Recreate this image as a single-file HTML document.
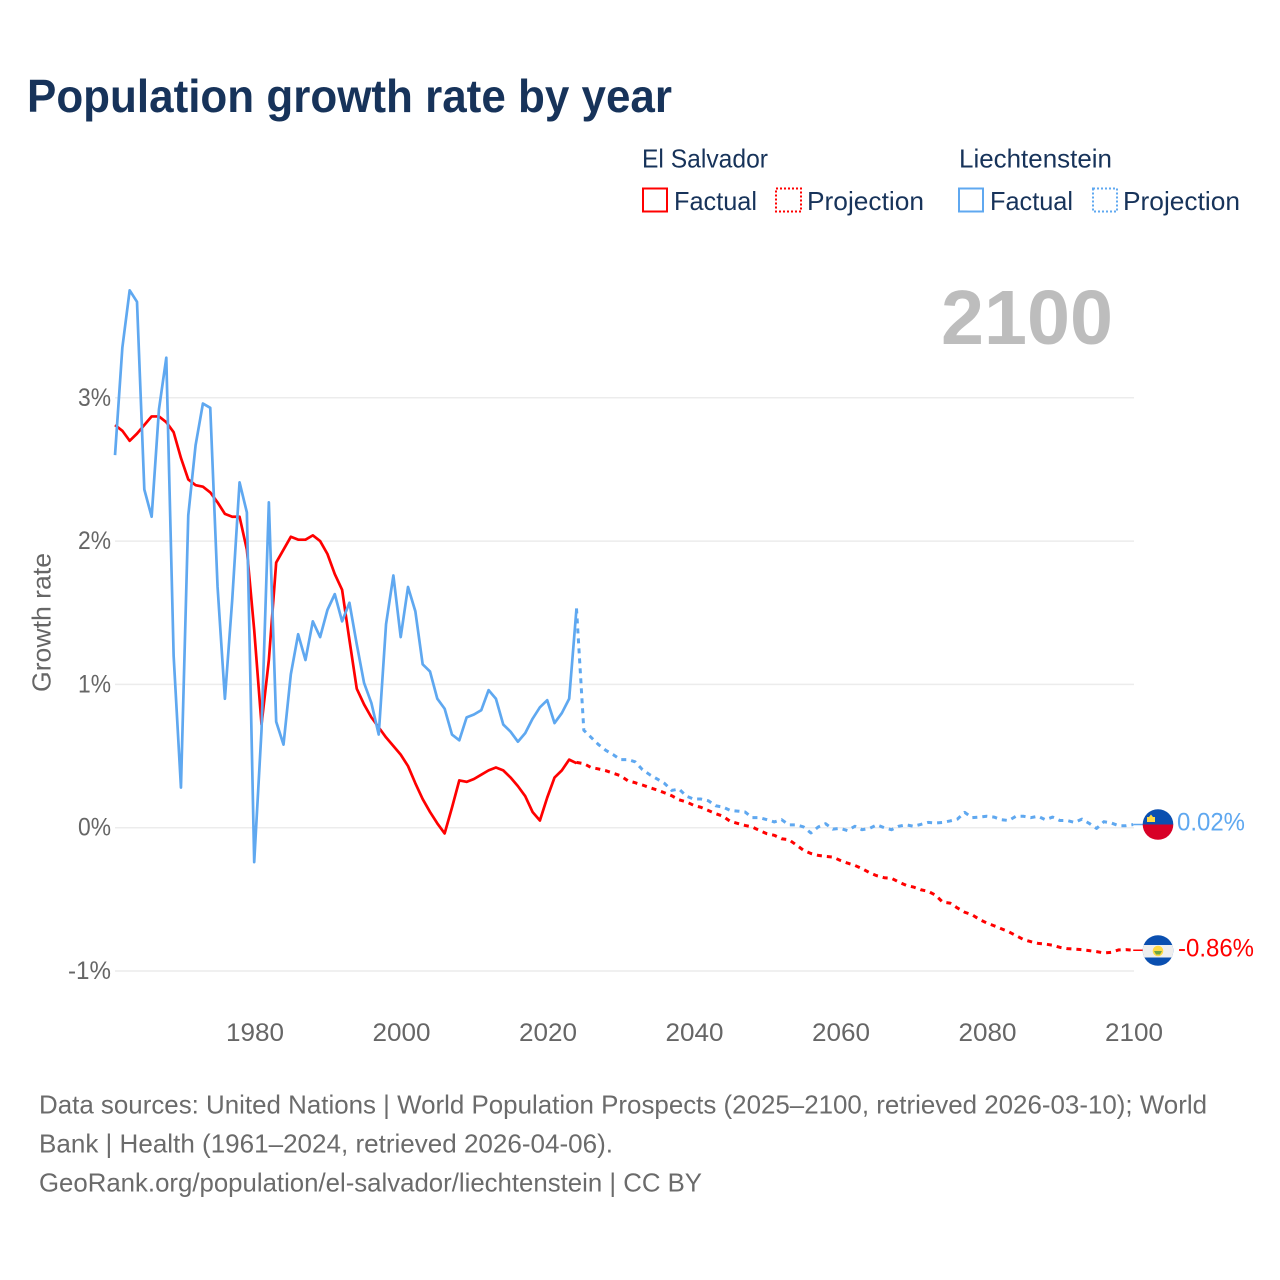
<!DOCTYPE html>
<html lang="en">
<head>
<meta charset="utf-8">
<title>Population growth rate by year</title>
<style>
html,body{margin:0;padding:0;background:#fff;}
svg{display:block;font-family:"Liberation Sans",sans-serif;}
</style>
</head>
<body>
<svg id="chart" xmlns="http://www.w3.org/2000/svg" width="1280" height="1280" viewBox="0 0 1280 1280">
  <rect width="1280" height="1280" fill="#fff"/>
  <text x="27" y="112" font-size="46" font-weight="700" fill="#17335a" textLength="645" lengthAdjust="spacingAndGlyphs">Population growth rate by year</text>

  <g font-size="26" fill="#17335a">
    <text x="642" y="167.500" textLength="126" lengthAdjust="spacingAndGlyphs">El Salvador</text>
    <text x="959" y="167.500" textLength="153" lengthAdjust="spacingAndGlyphs">Liechtenstein</text>
    <rect x="643" y="188.500" width="24" height="23" fill="none" stroke="#ff0000" stroke-width="2"/>
    <text x="674" y="210" textLength="83" lengthAdjust="spacingAndGlyphs">Factual</text>
    <rect x="776" y="188.500" width="25" height="23" fill="none" stroke="#ff0000" stroke-width="2" stroke-dasharray="2 2"/>
    <text x="807" y="210" textLength="117" lengthAdjust="spacingAndGlyphs">Projection</text>
    <rect x="959" y="188.500" width="24" height="23" fill="none" stroke="#5fa8f0" stroke-width="2"/>
    <text x="990" y="210" textLength="83" lengthAdjust="spacingAndGlyphs">Factual</text>
    <rect x="1093" y="188.500" width="24" height="23" fill="none" stroke="#5fa8f0" stroke-width="2" stroke-dasharray="2 2"/>
    <text x="1123" y="210" textLength="117" lengthAdjust="spacingAndGlyphs">Projection</text>
  </g>

  <text x="941" y="344" font-size="77" font-weight="700" fill="#bdbdbd" textLength="172" lengthAdjust="spacingAndGlyphs">2100</text>

  <text transform="translate(50.500,692) rotate(-90)" font-size="26" fill="#666" textLength="139" lengthAdjust="spacingAndGlyphs">Growth rate</text>

  <g id="grid"></g>
  <g id="yticks" font-size="25" fill="#666"></g>
  <g id="xticks" font-size="25" fill="#666"></g>
  <g id="series"></g>

  <defs>
    <clipPath id="clip-li"><circle cx="1158" cy="824.500" r="15.300"/></clipPath>
    <clipPath id="clip-sv"><circle cx="1158" cy="950.500" r="15.300"/></clipPath>
  </defs>
  <g clip-path="url(#clip-li)">
    <rect x="1142" y="808" width="32" height="16.500" fill="#0a4fb0"/>
    <rect x="1142" y="824.500" width="32" height="17" fill="#d80027"/>
    <path d="M1147 822V817H1149L1151 814.500L1153 817H1155V822Z" fill="#ffda44"/>
  </g>
  <g clip-path="url(#clip-sv)">
    <rect x="1142" y="934" width="32" height="33" fill="#0a4fb0"/>
    <rect x="1142" y="945" width="32" height="12.500" fill="#eeeeee"/>
    <circle cx="1158" cy="951" r="5.300" fill="#ffda44"/>
    <path d="M1154 951h8l-2 3.500h-4z" fill="#6da544"/>
  </g>
  <text id="label-li" x="1177" y="830.500" font-size="25" fill="#5fa8f0" textLength="68" lengthAdjust="spacingAndGlyphs">0.02%</text>
  <text id="label-sv" x="1178" y="956.500" font-size="25" fill="#ff0000" textLength="76" lengthAdjust="spacingAndGlyphs">-0.86%</text>

  <g font-size="26" fill="#6b6b6b">
    <text x="39" y="1113.500" textLength="1168" lengthAdjust="spacingAndGlyphs">Data sources: United Nations | World Population Prospects (2025–2100, retrieved 2026-03-10); World</text>
    <text x="39" y="1152.500" textLength="574" lengthAdjust="spacingAndGlyphs">Bank | Health (1961–2024, retrieved 2026-04-06).</text>
    <text x="39" y="1191.500" textLength="663" lengthAdjust="spacingAndGlyphs">GeoRank.org/population/el-salvador/liechtenstein | CC BY</text>
  </g>
</svg>
<script>
const yTickValues = [3, 2, 1, 0, -1];
const yTickLabels = ["3%", "2%", "1%", "0%", "-1%"];
const xTickYears = [1980, 2000, 2020, 2040, 2060, 2080, 2100];
const xTickLabels = ["1980", "2000", "2020", "2040", "2060", "2080", "2100"];
const factualStartYear = 1961;
const projectionStartYear = 2024;
const elSalvadorFactual = [2.81,2.77,2.70,2.75,2.81,2.87,2.87,2.83,2.76,2.58,2.43,2.39,2.38,2.34,2.27,2.19,2.17,2.17,1.94,1.38,0.72,1.17,1.85,1.94,2.03,2.01,2.01,2.04,2.00,1.91,1.77,1.66,1.31,0.97,0.86,0.77,0.70,0.63,0.57,0.51,0.43,0.31,0.20,0.11,0.03,-0.04,0.14,0.33,0.32,0.34,0.37,0.40,0.42,0.40,0.35,0.29,0.22,0.11,0.05,0.21,0.35,0.40,0.475,0.45];
const liechtensteinFactual = [2.60,3.35,3.75,3.67,2.36,2.17,2.92,3.28,1.20,0.28,2.18,2.67,2.96,2.93,1.68,0.90,1.59,2.41,2.20,-0.24,0.68,2.27,0.74,0.58,1.07,1.35,1.17,1.44,1.33,1.52,1.63,1.44,1.57,1.28,1.01,0.87,0.65,1.42,1.76,1.33,1.68,1.51,1.14,1.09,0.90,0.83,0.65,0.61,0.77,0.79,0.82,0.96,0.90,0.72,0.67,0.60,0.66,0.76,0.84,0.89,0.73,0.80,0.90,1.53];
const elSalvadorProjection = [0.456,0.447,0.42,0.41,0.398,0.38,0.363,0.328,0.314,0.298,0.28,0.263,0.244,0.223,0.195,0.18,0.156,0.142,0.12,0.098,0.08,0.044,0.03,0.016,0.005,-0.02,-0.042,-0.053,-0.077,-0.084,-0.12,-0.158,-0.18,-0.193,-0.2,-0.205,-0.228,-0.247,-0.263,-0.286,-0.314,-0.335,-0.349,-0.353,-0.379,-0.402,-0.414,-0.433,-0.444,-0.47,-0.52,-0.526,-0.56,-0.59,-0.607,-0.64,-0.665,-0.684,-0.705,-0.726,-0.753,-0.78,-0.795,-0.807,-0.812,-0.82,-0.835,-0.844,-0.847,-0.851,-0.858,-0.865,-0.874,-0.87,-0.853,-0.851,-0.855];
const liechtensteinProjection = [1.53,0.68,0.63,0.58,0.54,0.51,0.475,0.475,0.46,0.405,0.37,0.34,0.31,0.26,0.27,0.22,0.20,0.20,0.188,0.153,0.144,0.12,0.116,0.11,0.07,0.07,0.056,0.04,0.056,0.02,0.02,0.005,-0.037,0.005,0.028,-0.01,-0.005,-0.02,0.01,-0.014,-0.005,0.02,0,-0.014,0.01,0.02,0.01,0.023,0.037,0.033,0.037,0.047,0.06,0.107,0.07,0.074,0.08,0.074,0.056,0.05,0.08,0.08,0.07,0.08,0.056,0.074,0.05,0.05,0.037,0.06,0.03,-0.005,0.042,0.033,0.014,0.014,0.022];

const SVGNS = "http://www.w3.org/2000/svg";
function xScale(year) { return 254.2 + (year - 1980) * 7.325; }
function yScale(value) { return 827.7 - value * 143.3; }
function buildPoints(values, startYear) {
  return values.map(function (v, i) {
    return xScale(startYear + i).toFixed(2) + "," + yScale(v).toFixed(2);
  }).join(" ");
}

const gridGroup = document.getElementById("grid");
const yTickGroup = document.getElementById("yticks");
const xTickGroup = document.getElementById("xticks");
const seriesGroup = document.getElementById("series");

yTickValues.forEach(function (v, i) {
  const gridLine = document.createElementNS(SVGNS, "line");
  
  
  gridLine.setAttribute("x1", 115);
  gridLine.setAttribute("x2", 1134);
  gridLine.setAttribute("y1", yScale(v));
  gridLine.setAttribute("y2", yScale(v));
  gridLine.setAttribute("stroke", "#ececec");
  gridLine.setAttribute("stroke-width", "1.500");
  gridGroup.appendChild(gridLine);

  const label = document.createElementNS(SVGNS, "text");
  
  
  label.setAttribute("x", 111);
  label.setAttribute("y", yScale(v) + 8);
  label.setAttribute("text-anchor", "end");
  label.setAttribute("textLength", yTickLabels[i].length === 3 ? 43 : 33);
  label.setAttribute("lengthAdjust", "spacingAndGlyphs");
  label.textContent = yTickLabels[i];
  yTickGroup.appendChild(label);
});

xTickYears.forEach(function (year, i) {
  const label = document.createElementNS(SVGNS, "text");
  
  
  label.setAttribute("x", xScale(year) + 0.8);
  label.setAttribute("y", 1041);
  label.setAttribute("text-anchor", "middle");
  label.setAttribute("textLength", 58);
  label.setAttribute("lengthAdjust", "spacingAndGlyphs");
  label.textContent = xTickLabels[i];
  xTickGroup.appendChild(label);
});

function addLine(values, startYear, color, dashed, name) {
  const line = document.createElementNS(SVGNS, "polyline");
  
  
  line.setAttribute("points", buildPoints(values, startYear));
  line.setAttribute("fill", "none");
  line.setAttribute("stroke", color);
  line.setAttribute("stroke-linejoin", "round");
  if (dashed) {
    line.setAttribute("stroke-width", "3");
    line.setAttribute("stroke-dasharray", "5 5");
  } else {
    line.setAttribute("stroke-width", "2.700");
  }
  seriesGroup.appendChild(line);
}

function addLeader(value, color, name) {
  const leader = document.createElementNS(SVGNS, "line");
  
  
  leader.setAttribute("x1", xScale(2100));
  leader.setAttribute("x2", 1150);
  leader.setAttribute("y1", yScale(value));
  leader.setAttribute("y2", yScale(value));
  leader.setAttribute("stroke", color);
  leader.setAttribute("stroke-width", "1.500");
  seriesGroup.appendChild(leader);
}

addLine(elSalvadorProjection, projectionStartYear, "#ff0000", true, "el-salvador-projection-line");
addLine(elSalvadorFactual, factualStartYear, "#ff0000", false, "el-salvador-factual-line");
addLine(liechtensteinProjection, projectionStartYear, "#5fa8f0", true, "liechtenstein-projection-line");
addLine(liechtensteinFactual, factualStartYear, "#5fa8f0", false, "liechtenstein-factual-line");
addLeader(elSalvadorProjection[elSalvadorProjection.length - 1], "#ff0000", "el-salvador-leader-line");
addLeader(liechtensteinProjection[liechtensteinProjection.length - 1], "#5fa8f0", "liechtenstein-leader-line");
</script>
</body>
</html>
